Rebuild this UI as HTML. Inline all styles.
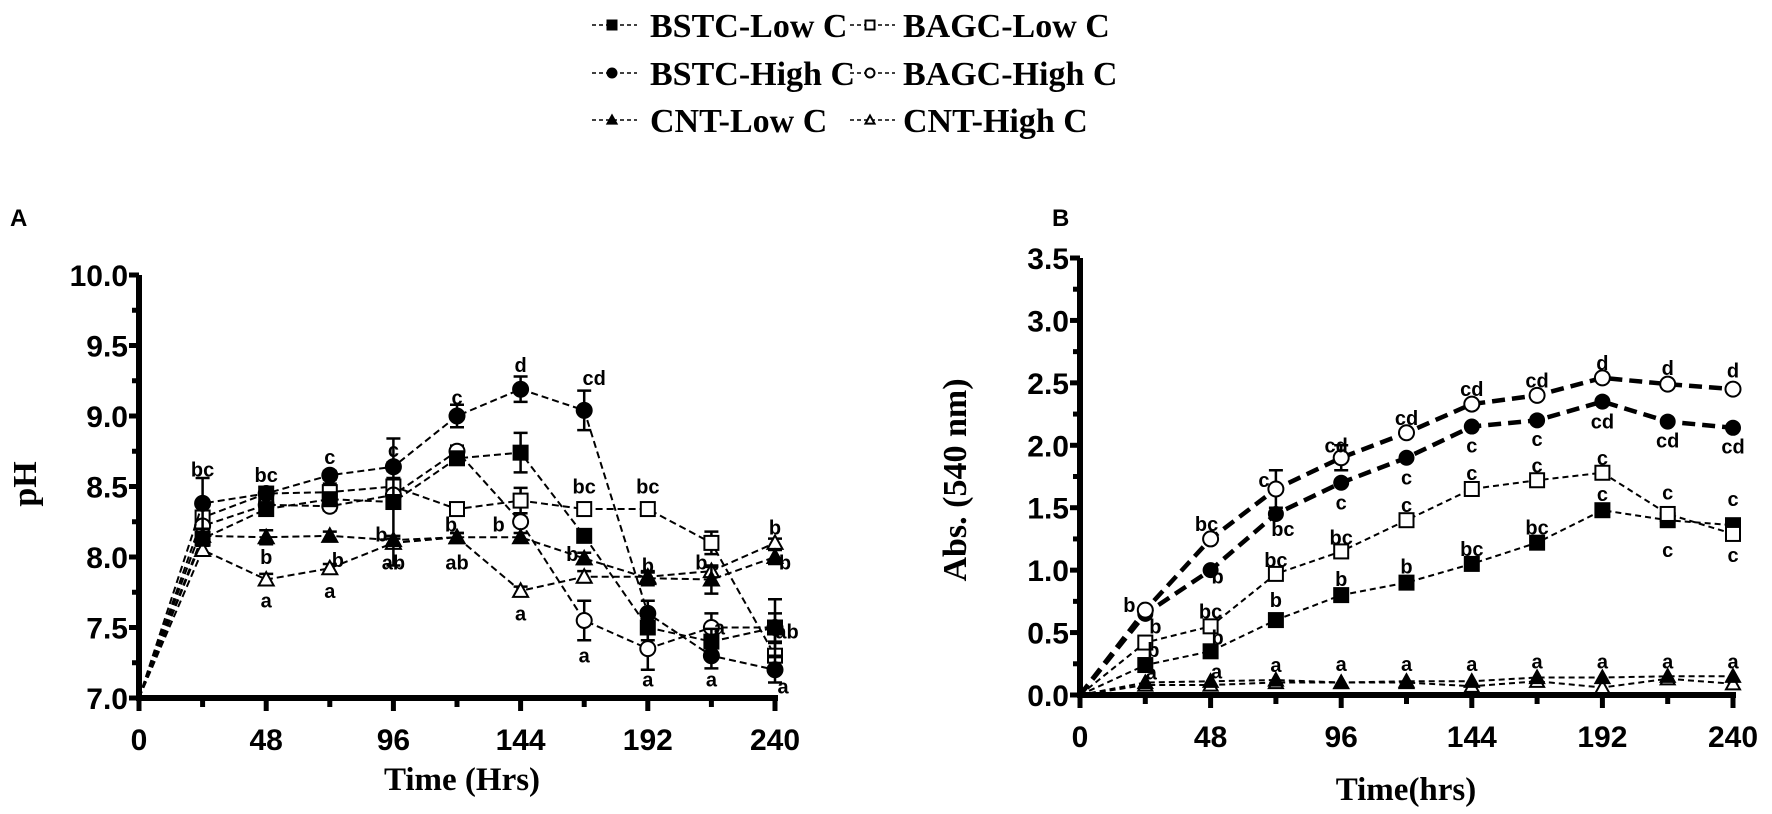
<!DOCTYPE html>
<html><head><meta charset="utf-8"><style>
html,body{margin:0;padding:0;background:#fff;}
svg{display:block;}
.tk{font-family:"Liberation Sans",sans-serif;font-weight:bold;font-size:30px;}
.lt{font-family:"Liberation Sans",sans-serif;font-weight:bold;font-size:20px;}
.ser{font-family:"Liberation Serif",serif;font-weight:bold;}
</style></head><body>
<svg id="chart" width="1772" height="814" viewBox="0 0 1772 814" xmlns="http://www.w3.org/2000/svg">
<g id="legend"></g>
<text x="10" y="226" font-family="Liberation Sans" font-weight="bold" font-size="24">A</text>
<text x="1052" y="226" font-family="Liberation Sans" font-weight="bold" font-size="24">B</text>
<g id="pa"></g>
<g id="pb"></g>
</svg>
<script>
const times=[0,24,48,72,96,120,144,168,192,216,240];
const xTicks=[0,48,96,144,192,240];
const phTicks=[7.0,7.5,8.0,8.5,9.0,9.5,10.0];
const absTicks=[0.0,0.5,1.0,1.5,2.0,2.5,3.0,3.5];
const seriesNames=["BSTC-Low C","BSTC-High C","CNT-Low C","BAGC-Low C","BAGC-High C","CNT-High C"];
// pH panel A
const phBSTCLow=[7.0,8.13,8.34,8.41,8.39,8.70,8.74,8.15,7.50,7.40,7.50];
const phBSTCHigh=[7.0,8.38,8.45,8.58,8.64,9.00,9.19,9.04,7.60,7.30,7.20];
const phCNTLow=[7.0,8.15,8.14,8.15,8.12,8.14,8.14,7.99,7.85,7.84,8.00];
const phBAGCLow=[7.0,8.28,8.45,8.46,8.50,8.34,8.40,8.34,8.34,8.10,7.30];
const phBAGCHigh=[7.0,8.22,8.37,8.36,8.44,8.75,8.25,7.55,7.35,7.50,7.50];
const phCNTHigh=[7.0,8.05,7.84,7.92,8.10,8.14,7.76,7.86,7.86,7.90,8.10];
const phErrBSTCHigh=[0,0.18,0.03,0.03,0.03,0.08,0.09,0.14,0.09,0.09,0.09];
const phErrBSTCLow=[0,0.03,0.03,0.03,0.45,0.03,0.14,0.03,0.09,0.09,0.2];
const phErrBAGCLow=[0,0.03,0.03,0.06,0.06,0.03,0.09,0.03,0.03,0.08,0.09];
const phErrBAGCHigh=[0,0.03,0.03,0.03,0.03,0.04,0.03,0.14,0.15,0.1,0.1];
const phErrCNTLow=[0,0.03,0.05,0.03,0.03,0.03,0.03,0.04,0.05,0.1,0.05];
const phErrCNTHigh=[0,0.03,0.04,0.03,0.03,0.03,0.03,0.04,0.03,0.03,0.03];
const phLetterT=[24,48,48,48,72,72,72,96,96,96,120,120,120,144,144,144,168,168,168,168,192,192,192,216,216,216,240,240,240,240];
const phLetterV=[8.62,8.58,8.0,7.69,8.71,7.98,7.76,8.76,8.16,7.96,9.13,8.23,7.96,9.36,8.23,7.6,9.27,8.5,8.02,7.3,8.5,7.94,7.13,7.96,7.5,7.13,8.21,7.96,7.47,7.08];
const phLetterS=["bc","bc","b","a","c","b","a","c","b","ab","c","b","ab","d","b","a","cd","bc","b","a","bc","b","a","b","a","a","b","b","ab","a"];
const phLetterDx=[0,0,0,0,0,8,0,0,-12,0,0,-6,0,0,-22,0,10,0,-12,0,0,0,0,-10,8,0,0,10,12,8];
// Absorbance panel B
const abBSTCLow=[0,0.24,0.35,0.60,0.80,0.90,1.05,1.22,1.48,1.40,1.36];
const abBSTCHigh=[0,0.65,1.00,1.45,1.70,1.90,2.15,2.20,2.35,2.19,2.14];
const abCNTLow=[0,0.10,0.11,0.12,0.10,0.11,0.11,0.14,0.14,0.15,0.15];
const abBAGCLow=[0,0.42,0.55,0.97,1.15,1.40,1.65,1.72,1.78,1.45,1.29];
const abBAGCHigh=[0,0.68,1.25,1.65,1.90,2.10,2.33,2.40,2.54,2.49,2.45];
const abCNTHigh=[0,0.08,0.08,0.10,0.10,0.10,0.07,0.11,0.06,0.13,0.09];
const abErrBAGCHigh=[0,0,0,0.15,0.1,0,0,0,0,0,0];
const abLetterT=[24,24,24,24,48,48,48,48,48,72,72,72,72,72,96,96,96,96,96,120,120,120,120,120,144,144,144,144,144,168,168,168,168,168,192,192,192,192,192,216,216,216,216,216,240,240,240,240,240];
const abLetterV=[0.72,0.55,0.36,0.18,1.37,0.95,0.67,0.46,0.19,1.72,1.33,1.08,0.76,0.24,2.0,1.54,1.26,0.93,0.25,2.22,1.74,1.52,1.03,0.25,2.45,2.0,1.78,1.17,0.25,2.52,2.05,1.84,1.34,0.27,2.66,2.19,1.9,1.61,0.27,2.62,2.04,1.62,1.16,0.27,2.6,1.99,1.57,1.12,0.27];
const abLetterS=["b","b","b","a","bc","b","bc","b","a","c","bc","bc","b","a","cd","c","bc","b","a","cd","c","c","b","a","cd","c","c","bc","a","cd","c","c","bc","a","d","cd","c","c","a","d","cd","c","c","a","d","cd","c","c","a"];
const abLetterDx=[-16,10,8,6,-4,7,0,7,6,-12,7,0,0,0,-5,0,0,0,0,0,0,0,0,0,0,0,0,0,0,0,0,0,0,0,0,0,0,0,0,0,0,0,0,0,0,0,0,0,0];

const NS="http://www.w3.org/2000/svg";
function mk(tag,attrs,parent){const e=document.createElementNS(NS,tag);for(const k in attrs)e.setAttribute(k,attrs[k]);parent.appendChild(e);return e;}

function marker(g,type,x,y,s){
  let e;
  const half=s/2;
  if(type==="sqF"||type==="sqO"){e=mk("rect",{x:x-half,y:y-half,width:s,height:s,fill:type==="sqF"?"#000":"#fff",stroke:"#000","stroke-width":2},g);}
  else if(type==="ciF"||type==="ciO"){e=mk("circle",{cx:x,cy:y,r:half,fill:type==="ciF"?"#000":"#fff",stroke:"#000","stroke-width":2},g);}
  else {e=mk("polygon",{points:`${x},${y-half} ${x-half},${y+half*0.8} ${x+half},${y+half*0.8}`,fill:type==="trF"?"#000":"#fff",stroke:"#000","stroke-width":2},g);}
  
  
}

function panel(g,cfg){
  const X=t=>cfg.x0+(t/240)*(cfg.x1-cfg.x0);
  const Y=v=>cfg.y0-(v-cfg.vmin)/(cfg.vmax-cfg.vmin)*(cfg.y0-cfg.y1);
  // series
  cfg.series.forEach(s=>{
    const sg=mk("g",{},g);
    
    
    const pts=times.map((t,i)=>X(t)+","+Y(s.v[i])).join(" ");
    const pl=mk("polyline",{points:pts,fill:"none",stroke:"#000","stroke-width":s.w,"stroke-dasharray":s.dash},sg);
    
    
    if(s.err){times.forEach((t,i)=>{if(s.err[i]>0){const x=X(t),a=Y(s.v[i]+s.err[i]),b=Y(s.v[i]-s.err[i]);
      const eb=mk("path",{d:`M${x},${a}V${b}M${x-7},${a}H${x+7}M${x-7},${b}H${x+7}`,stroke:"#000","stroke-width":2.5,fill:"none"},sg);
      
      }});}
    times.forEach((t,i)=>{if(i>0)marker(sg,s.m,X(t),Y(s.v[i]),s.ms);});
  });
  // letters
  const lg=mk("g",{},g);
  
  
  cfg.lt.forEach((t,i)=>{const e=mk("text",{x:X(t)+cfg.ldx[i],y:Y(cfg.lv[i])+7,"text-anchor":"middle",class:"lt"},lg);e.textContent=cfg.ls[i];
    
    });
  // axes
  const ax=mk("g",{},g);
  
  
  const ya=mk("line",{x1:cfg.x0,y1:cfg.y1,x2:cfg.x0,y2:cfg.y0+3,stroke:"#000","stroke-width":6},ax);
  
  
  const xa=mk("line",{x1:cfg.x0-3,y1:cfg.y0,x2:cfg.x1+3,y2:cfg.y0,stroke:"#000","stroke-width":6},ax);
  
  
  for(let t=0;t<=240;t+=24){const major=t%48===0;mk("line",{x1:X(t),y1:cfg.y0,x2:X(t),y2:cfg.y0+(major?13:9),stroke:"#000","stroke-width":5},ax);}
  xTicks.forEach(t=>{const e=mk("text",{x:X(t),y:cfg.y0+52,"text-anchor":"middle",class:"tk"},ax);e.textContent=t;
    
    });
  cfg.yt.forEach((v,i)=>{const y=Y(v);mk("line",{x1:cfg.x0-10,y1:y,x2:cfg.x0,y2:y,stroke:"#000","stroke-width":5},ax);
    if(i<cfg.yt.length-1){mk("line",{x1:cfg.x0-7,y1:Y(v+cfg.step/2),x2:cfg.x0,y2:Y(v+cfg.step/2),stroke:"#000","stroke-width":5},ax);}
    const e=mk("text",{x:cfg.x0-11,y:y+11,"text-anchor":"end",class:"tk"},ax);e.textContent=v.toFixed(1);
    
    });
  const xt=mk("text",{x:cfg.xtx,y:cfg.xty,"text-anchor":"middle",class:"ser","font-size":33},ax);xt.textContent=cfg.xtitle;
  
  
  const yt=mk("text",{x:0,y:0,"text-anchor":"middle",class:"ser","font-size":34,transform:`translate(${cfg.ytx},${cfg.yty}) rotate(-90)`},ax);yt.textContent=cfg.ytitle;
  
  
}

const thin="7,4";
panel(document.getElementById("pa"),{x0:139,x1:775,y0:698,y1:275,vmin:7,vmax:10,yt:phTicks,step:0.5,
  xtitle:"Time (Hrs)",xtx:462,xty:790,ytitle:"pH",ytx:36,yty:484,
  lt:phLetterT,lv:phLetterV,ls:phLetterS,ldx:phLetterDx,
  series:[
    {name:"BAGC-Low C",v:phBAGCLow,err:phErrBAGCLow,m:"sqO",ms:14,w:2,dash:thin},
    {name:"BAGC-High C",v:phBAGCHigh,err:phErrBAGCHigh,m:"ciO",ms:15,w:2,dash:thin},
    {name:"CNT-High C",v:phCNTHigh,err:phErrCNTHigh,m:"trO",ms:15,w:2,dash:thin},
    {name:"CNT-Low C",v:phCNTLow,err:phErrCNTLow,m:"trF",ms:15,w:2,dash:thin},
    {name:"BSTC-Low C",v:phBSTCLow,err:phErrBSTCLow,m:"sqF",ms:14,w:2,dash:thin},
    {name:"BSTC-High C",v:phBSTCHigh,err:phErrBSTCHigh,m:"ciF",ms:15,w:2,dash:thin}
  ]});
panel(document.getElementById("pb"),{x0:1080,x1:1733,y0:695,y1:258,vmin:0,vmax:3.5,yt:absTicks,step:0.5,
  xtitle:"Time(hrs)",xtx:1406,xty:800,ytitle:"Abs. (540 nm)",ytx:966,yty:480,
  lt:abLetterT,lv:abLetterV,ls:abLetterS,ldx:abLetterDx,
  series:[
    {name:"CNT-High C",v:abCNTHigh,m:"trO",ms:14,w:2,dash:"6,4"},
    {name:"CNT-Low C",v:abCNTLow,m:"trF",ms:14,w:2,dash:"6,4"},
    {name:"BSTC-Low C",v:abBSTCLow,m:"sqF",ms:14,w:2,dash:"6,4"},
    {name:"BAGC-Low C",v:abBAGCLow,m:"sqO",ms:14,w:2,dash:"6,4"},
    {name:"BSTC-High C",v:abBSTCHigh,m:"ciF",ms:14,w:4.5,dash:"13,7"},
    {name:"BAGC-High C",v:abBAGCHigh,err:abErrBAGCHigh,m:"ciO",ms:15,w:4.5,dash:"13,7"}
  ]});

// legend
const L=document.getElementById("legend");
const legM=["sqF","ciF","trF","sqO","ciO","trO"];
const legNames=["BSTC-Low C","BSTC-High C","CNT-Low C","BAGC-Low C","BAGC-High C","CNT-High C"];
const legX=[592,592,592,850,850,850], legTX=[650,650,650,903,903,903], legY=[25,73,120,25,73,120];
legNames.forEach((n,i)=>{
  const g=mk("g",{},L);
  
  
  mk("line",{x1:legX[i],y1:legY[i],x2:legX[i]+45,y2:legY[i],stroke:"#000","stroke-width":1.5,"stroke-dasharray":"4,3"},g);
  marker(g,legM[i],legX[i]+20,legY[i],9);
  const t=mk("text",{x:legTX[i],y:legY[i]+12,class:"ser","font-size":34},g);t.textContent=n;
});
</script>
</body></html>
